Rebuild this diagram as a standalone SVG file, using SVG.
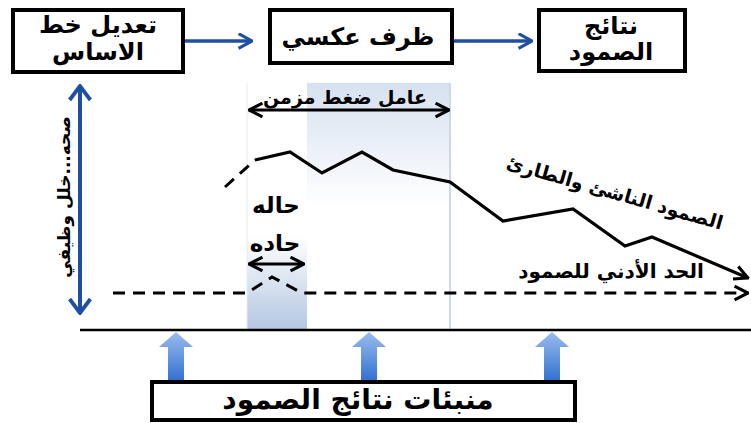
<svg xmlns="http://www.w3.org/2000/svg" width="751" height="423" viewBox="0 0 751 423">
<defs>
<style>
.box{fill:#fff;stroke:#000;stroke-width:4}
.t{font-family:"DejaVu Sans",sans-serif;font-weight:bold;fill:#000;text-anchor:middle}
.blk{stroke:#000;stroke-width:3.2;fill:none}
.dash{stroke:#000;stroke-width:3;fill:none;stroke-dasharray:12 8}
</style>
<marker id="ob" viewBox="0 0 12 12" refX="11" refY="6" markerWidth="17" markerHeight="17" orient="auto-start-reverse" markerUnits="userSpaceOnUse">
<path d="M1.5,0.8 L11,6 L1.5,11.2" fill="none" stroke="#1f4fa0" stroke-width="2.2"/>
</marker>
<marker id="ov" viewBox="0 0 12 12" refX="11" refY="6" markerWidth="24" markerHeight="24" orient="auto-start-reverse" markerUnits="userSpaceOnUse">
<path d="M4,0.8 L11,6 L4,11.2" fill="none" stroke="#1f4fa0" stroke-width="1.9"/>
</marker>
<marker id="ok" viewBox="0 0 12 12" refX="11" refY="6" markerWidth="17" markerHeight="17" orient="auto-start-reverse" markerUnits="userSpaceOnUse">
<path d="M1.5,1.2 L11,6 L1.5,10.8" fill="none" stroke="#000" stroke-width="2.2"/>
</marker>
<linearGradient id="g1" x1="0" y1="0" x2="0" y2="1">
<stop offset="0" stop-color="#ffffff"/>
<stop offset="0.62" stop-color="#ffffff"/>
<stop offset="1" stop-color="#b3c6e2"/>
</linearGradient>
<linearGradient id="g2" x1="0" y1="0" x2="0" y2="1">
<stop offset="0" stop-color="#d6e1f0"/>
<stop offset="0.5" stop-color="#ffffff"/>
<stop offset="1" stop-color="#ffffff"/>
</linearGradient>
<linearGradient id="ga" x1="0" y1="0" x2="0" y2="1">
<stop offset="0" stop-color="#9abcee"/>
<stop offset="1" stop-color="#2f6fcf"/>
</linearGradient>
</defs>
<rect width="751" height="423" fill="#fff"/>
<g id="background">
<rect x="247" y="83" width="60" height="247" fill="url(#g1)"/>
<rect x="307" y="83" width="143" height="247" fill="url(#g2)"/>
<line x1="450" y1="83" x2="450" y2="330" stroke="#d0d8e4" stroke-width="2"/>
<line x1="247" y1="83" x2="247" y2="330" stroke="#e6ebf2" stroke-width="1"/>
<line x1="80" y1="330" x2="751" y2="330" stroke="#000" stroke-width="2.5"/>
</g>
<g id="connectors">
<line x1="183" y1="41" x2="252" y2="41" stroke="#1f4fa0" stroke-width="3.5" marker-end="url(#ob)"/>
<line x1="452" y1="41" x2="532" y2="41" stroke="#1f4fa0" stroke-width="3.5" marker-end="url(#ob)"/>
<line x1="80" y1="86" x2="80" y2="313" stroke="#1f4fa0" stroke-width="4" marker-start="url(#ov)" marker-end="url(#ov)"/>
<line x1="249" y1="110" x2="449" y2="110" class="blk" marker-start="url(#ok)" marker-end="url(#ok)"/>
<line x1="249" y1="264" x2="304" y2="264" class="blk" marker-start="url(#ok)" marker-end="url(#ok)"/>
<polyline class="blk" points="255,160 290,152 322,173 362,152 393,170 450,182 503,221 573,209 625,246 652,237 748,278" marker-end="url(#ok)"/>
<line class="dash" x1="225" y1="187" x2="255" y2="160" stroke-dasharray="9 6"/>
<polyline class="dash" points="113,293 247,293 272,277 302,293 748,293" marker-end="url(#ok)"/>
<g fill="url(#ga)">
<path d="M168,382 L168,347 L159,347 L176,332 L193,347 L184,347 L184,382 Z"/>
<path d="M361,382 L361,347 L352,347 L369,332 L386,347 L377,347 L377,382 Z"/>
<path d="M544,382 L544,347 L535,347 L552,332 L569,347 L560,347 L560,382 Z"/>
</g>
</g>
<g id="n1">
<rect class="box" x="13" y="10" width="170" height="62"/>
<text class="t" x="98" y="33" font-size="24">تعديل خط</text>
<text class="t" x="98" y="60" font-size="24">الاساس</text>
</g>
<g id="n2">
<rect class="box" x="270" y="10" width="182" height="53"/>
<text class="t" x="358" y="45" font-size="24">ظرف عكسي</text>
</g>
<g id="n3">
<rect class="box" x="539" y="10" width="146" height="61"/>
<text class="t" x="611" y="34" font-size="24">نتائج</text>
<text class="t" x="611" y="60" font-size="24">الصمود</text>
</g>
<g id="n4">
<rect class="box" x="152" y="382" width="423" height="38"/>
<text class="t" x="358" y="409" font-size="28">منبئات نتائج الصمود</text>
</g>
<g id="labels">
<text class="t" x="0" y="0" font-size="17" transform="translate(70,197) rotate(-90)">صحه...خلل وظيفي</text>
<text class="t" x="345" y="104" font-size="19">عامل ضغط مزمن</text>
<text class="t" x="276" y="213" font-size="23">حاله</text>
<text class="t" x="275" y="251" font-size="23">حاده</text>
<text class="t" x="0" y="0" font-size="19" transform="translate(613,199) rotate(16)">الصمود الناشئ والطارئ</text>
<text class="t" x="611" y="278" font-size="20">الحد الأدني للصمود</text>
</g>
</svg>
